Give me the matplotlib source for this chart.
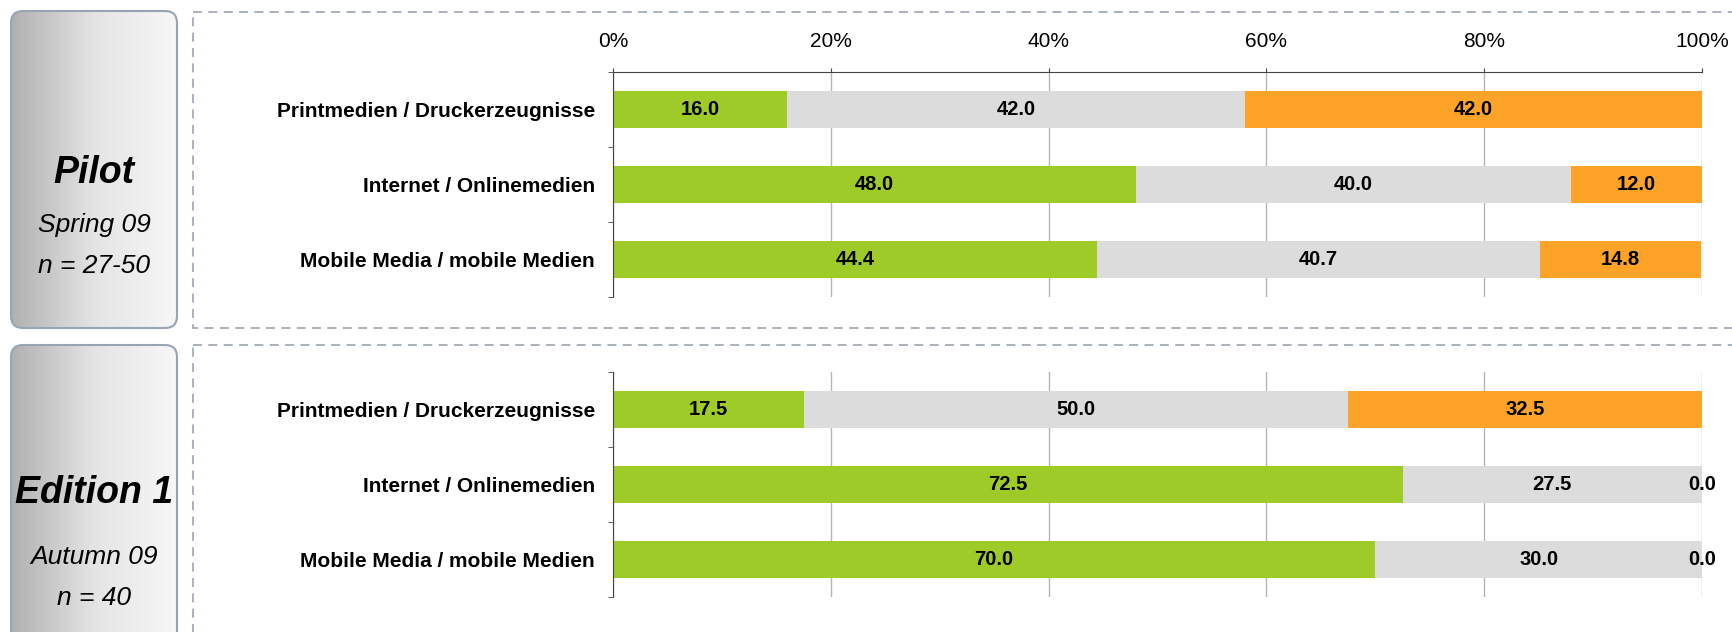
import numpy as np
import matplotlib.pyplot as plt
from matplotlib.patches import FancyBboxPatch, Rectangle
from matplotlib.colors import LinearSegmentedColormap

plt.rcParams['font.family'] = ['Liberation Sans', 'DejaVu Sans']

categories = ['Printmedien / Druckerzeugnisse', 'Internet / Onlinemedien', 'Mobile Media / mobile Medien']

# shares per wave: green / grey / orange
pilot_green = [16.0, 48.0, 44.4]
pilot_grey = [42.0, 40.0, 40.7]
pilot_orange = [42.0, 12.0, 14.8]

ed1_green = [17.5, 72.5, 70.0]
ed1_grey = [50.0, 27.5, 30.0]
ed1_orange = [32.5, 0.0, 0.0]

panel_titles = ['Pilot', 'Edition 1']
panel_seasons = ['Spring 09', 'Autumn 09']
panel_n = ['n = 27-50', 'n = 40']
tick_labels = ['0%', '20%', '40%', '60%', '80%', '100%']

colors = ['#9ECB27', '#DCDCDC', '#FDA428']

W, H = 1732, 632
fig = plt.figure(figsize=(W / 100, H / 100), dpi=100)

# background layer in pixel coordinates for the frames and side boxes
bg = fig.add_axes([0, 0, 1, 1])
bg.axis('off')

grad = np.linspace(0, 1, 256).reshape(1, -1)
side_cmap = LinearSegmentedColormap.from_list('side', ['#b0b0b0', '#e4e4e4', '#f7f7f7'])

boxes = [(11, 11, 166, 317), (11, 345, 166, 310)]
frames = [(193, 12, 1600, 316), (193, 345, 1600, 320)]
text_y = [(173, 225, 266), (493, 557, 598)]

for (bx, by, bw, bh), (fx, fy, fw, fh), title, season, n_txt, ty in zip(
        boxes, frames, panel_titles, panel_seasons, panel_n, text_y):
    box = FancyBboxPatch((bx, by), bw, bh, boxstyle='round,pad=0,rounding_size=12',
                         facecolor='none', edgecolor='#98a4b6', linewidth=1.5, zorder=3)
    bg.add_patch(box)
    im = bg.imshow(grad, cmap=side_cmap, aspect='auto',
                   extent=(bx, bx + bw, by + bh, by), zorder=2)
    im.set_clip_path(box)
    bg.add_patch(Rectangle((fx, fy), fw, fh, facecolor='none', edgecolor='#a3abb9',
                           linewidth=1.3, linestyle=(0, (5, 3.5))))
    cx = bx + bw / 2
    bg.text(cx, ty[0], title, ha='center', va='center', fontsize=27,
            fontweight='bold', style='italic', zorder=4)
    bg.text(cx, ty[1], season, ha='center', va='center', fontsize=19,
            style='italic', zorder=4)
    bg.text(cx, ty[2], n_txt, ha='center', va='center', fontsize=19,
            style='italic', zorder=4)
bg.set_xlim(0, W)
bg.set_ylim(H, 0)


def draw_panel(rect, green, grey, orange, top_axis):
    ax = fig.add_axes(rect)
    y = np.arange(len(categories))
    left = np.zeros(len(categories))
    for vals, col in zip([green, grey, orange], colors):
        vals = np.array(vals)
        ax.barh(y, vals, left=left, height=0.5, color=col, zorder=2)
        for yi, l, v in zip(y, left, vals):
            ax.text(l + v / 2, yi, f'{v:.1f}', ha='center', va='center',
                    fontsize=14.5, fontweight='bold', zorder=3)
        left = left + vals
    ax.set_xlim(0, 100)
    ax.set_ylim(2.5, -0.5)
    ax.set_xticks(np.arange(0, 101, 20))
    ax.grid(axis='x', color='#b5b5b5', linewidth=1, zorder=0)
    ax.set_yticks(y)
    ax.set_yticklabels(categories, fontsize=15, fontweight='bold')
    ax.set_yticks([-0.5, 0.5, 1.5, 2.5], minor=True)
    ax.tick_params(axis='y', which='major', length=0, pad=13)
    ax.tick_params(axis='y', which='minor', length=3.5, color='#444444')
    for s in ['right', 'bottom']:
        ax.spines[s].set_visible(False)
    ax.spines['left'].set_color('#444444')
    if top_axis:
        ax.xaxis.tick_top()
        ax.set_xticklabels(tick_labels, fontsize=15)
        ax.tick_params(axis='x', length=3, color='#444444', pad=12.4)
        ax.spines['top'].set_color('#444444')
    else:
        ax.spines['top'].set_visible(False)
        ax.tick_params(axis='x', length=0, labeltop=False, labelbottom=False)
    ax.set_facecolor('none')
    return ax


draw_panel([613 / W, 1 - 297 / H, 1089 / W, 225 / H], pilot_green, pilot_grey, pilot_orange, True)
draw_panel([613 / W, 1 - 597 / H, 1089 / W, 225 / H], ed1_green, ed1_grey, ed1_orange, False)

fig.savefig('out.png', dpi=100)
